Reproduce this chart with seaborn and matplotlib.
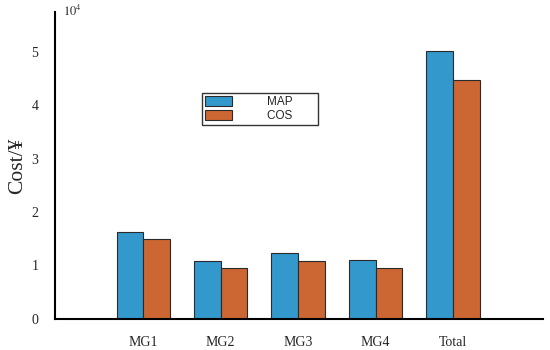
import pandas as pd
import matplotlib.pyplot as plt
import seaborn as sns

# data (cost in yuan)
groups = ["MG1", "MG2", "MG3", "MG4", "Total"]
map_cost = [16200, 10900, 12400, 11000, 50200]
cos_cost = [15000, 9500, 10900, 9600, 44800]

df = pd.DataFrame({
    "group": groups * 2,
    "cost": [v / 1e4 for v in map_cost + cos_cost],
    "method": ["MAP"] * len(groups) + ["COS"] * len(groups),
})

sns.set_style("white")
plt.rcParams["font.family"] = ["Liberation Serif", "DejaVu Serif"]
plt.rcParams["mathtext.fontset"] = "stix"

fig = plt.figure(figsize=(5.5, 3.5), dpi=100)
ax = fig.add_axes([0.1, 0.089, 0.887, 0.877])

sns.barplot(data=df, x="group", y="cost", hue="method",
            palette={"MAP": "#3399CC", "COS": "#CC6633"},
            width=0.69, edgecolor="#2a2a2a", linewidth=0.8,
            saturation=1, ax=ax)

ax.set_xlim(-1.14, 5.16)
ax.set_ylim(0, 5.75)
ax.set_yticks([0, 1, 2, 3, 4, 5])
ax.set_xlabel("")
ax.set_ylabel("Cost/¥", fontsize=15.5, labelpad=3)
ax.tick_params(axis="both", direction="in", labelsize=10, length=4,
               width=1, color="black")
ax.tick_params(axis="x", pad=12, length=3)
ax.tick_params(axis="y", pad=12)
for s in ["top", "right"]:
    ax.spines[s].set_visible(False)
for s in ["left", "bottom"]:
    ax.spines[s].set_color("black")
    ax.spines[s].set_linewidth(1.5)
ax.text(0.016, 1.025, r"$10^4$", transform=ax.transAxes, fontsize=9,
        va="top", ha="left")

handles, _ = ax.get_legend_handles_labels()
leg = ax.legend(handles, ["MAP       ", "COS       "],
                loc="upper left", bbox_to_anchor=(0.29, 0.755),
                frameon=True, fancybox=False, edgecolor="black",
                handlelength=2.3, handleheight=0.9, handletextpad=2.9,
                borderpad=0.25, labelspacing=0.2,
                prop={"family": "Liberation Sans", "size": 8.5})
leg.get_frame().set_linewidth(1.0)

fig.savefig("out.png", dpi=100)
